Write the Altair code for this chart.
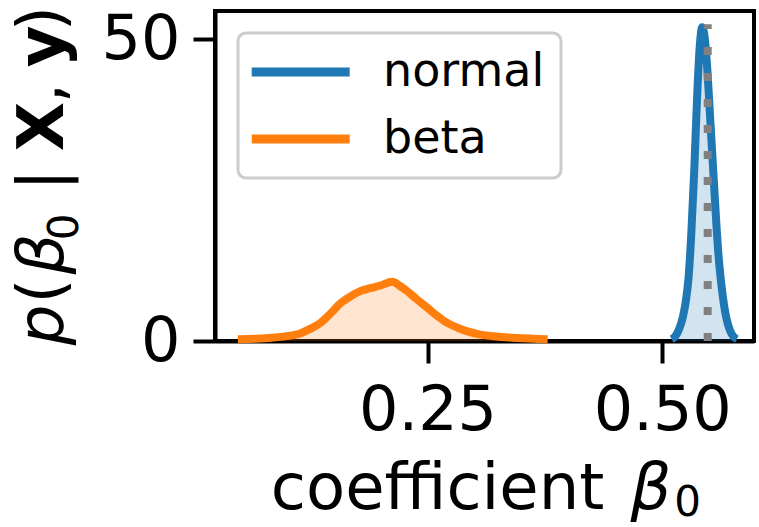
import altair as alt
import pandas as pd

# ---- data ----
norm_x = [0.510, 0.514, 0.518, 0.522, 0.525, 0.528, 0.531, 0.534, 0.537, 0.540,
          0.5425, 0.545, 0.548, 0.551, 0.554, 0.557, 0.560, 0.564, 0.568, 0.572,
          0.576, 0.5795]
norm_y = [0.3, 0.8, 2.0, 4.0, 6.5, 10.5, 18.0, 28.0, 40.0, 49.0,
          52.0, 50.5, 45.0, 37.0, 29.0, 21.0, 14.0, 8.0, 4.0, 1.8,
          0.7, 0.3]
beta_x = [0.048, 0.08, 0.10, 0.115, 0.125, 0.136, 0.147, 0.157, 0.168, 0.179,
          0.19, 0.20, 0.2125, 0.22, 0.228, 0.238, 0.25, 0.26, 0.271, 0.282,
          0.2925, 0.305, 0.32, 0.345, 0.378]
beta_y = [0.3, 0.5, 0.8, 1.3, 2.0, 3.0, 4.6, 6.2, 7.4, 8.3,
          8.8, 9.2, 9.8, 9.2, 8.3, 7.0, 5.5, 4.2, 3.0, 2.2,
          1.6, 1.1, 0.8, 0.5, 0.3]
true_beta0 = [0.5484]
true_top = [52.5]
series = ["normal", "beta"]
colors = ["#1f77b4", "#ff7f0e"]
x_ticks = [0.25, 0.50]
y_ticks = [0, 50]
x_title_parts = ["coefficient", "β", "0"]
y_title_parts = ["p", "(", "β", "0", "|", "X", ",", "y", ")"]

FONT = "DejaVu Sans"

df = pd.DataFrame({
    "x": norm_x + beta_x,
    "y": norm_y + beta_y,
    "dist": [series[0]] * len(norm_x) + [series[1]] * len(beta_x),
})

xscale = alt.Scale(domain=[0.0237, 0.5977], nice=False, zero=False)
yscale = alt.Scale(domain=[0, 54.69], nice=False, zero=False)

xaxis = alt.Axis(values=x_ticks, format=".2f", title=None, grid=False,
                 domainColor="black", domainWidth=4, tickColor="black",
                 tickWidth=4, tickSize=22, labelFontSize=62, labelFont=FONT,
                 labelColor="black", labelPadding=17, labelFlush=False)
yaxis = alt.Axis(values=y_ticks, format="d", title=None, grid=False,
                 domainColor="black", domainWidth=4, tickColor="black",
                 tickWidth=4, tickSize=22, labelFontSize=62, labelFont=FONT,
                 labelColor="black", labelPadding=13)

X = alt.X("x:Q", scale=xscale, axis=xaxis)
Y = alt.Y("y:Q", scale=yscale, axis=yaxis)

base = alt.Chart(df)

areas = [
    base.transform_filter(alt.datum.dist == s).mark_area(
        opacity=0.2, interpolate="monotone", color=c
    ).encode(x=X, y=Y)
    for s, c in zip(series, colors)
]

line = base.mark_line(strokeWidth=8, interpolate="monotone").encode(
    x=X, y=Y,
    color=alt.Color(
        "dist:N",
        scale=alt.Scale(domain=series, range=colors),
        sort=series,
        legend=alt.Legend(
            title=None, orient="none", legendX=23, legendY=22,
            symbolType="M-1.55,0L4.45,0", symbolSize=1067, symbolStrokeWidth=9,
            labelFontSize=46, labelFont=FONT, labelColor="black",
            labelOffset=83, rowPadding=21, padding=16,
            strokeColor="#cccccc", cornerRadius=8, fillColor="white",
            labelLimit=400,
        ),
    ),
)

rule_df = pd.DataFrame({"x": true_beta0, "y0": [0], "y1": true_top})
rule = alt.Chart(rule_df).mark_rule(
    color="#808080", strokeWidth=8, strokeDash=[8, 18]
).encode(x=X, y=alt.Y("y0:Q", scale=yscale, axis=yaxis), y2="y1:Q")


def txt(s, x, y, size=64, style="normal", weight="normal", angle=0, align="left"):
    return alt.Chart(pd.DataFrame({"t": [s]})).mark_text(
        font=FONT, fontSize=size, fontStyle=style, fontWeight=weight,
        angle=angle, align=align, baseline="alphabetic", color="black",
    ).encode(text="t:N", x=alt.value(x), y=alt.value(y))


# x-axis title: coefficient β_0
xt = [
    txt(x_title_parts[0], 55.8, 498),
    txt(x_title_parts[1], 436, 498, style="italic", align="center"),
    txt(x_title_parts[2], 472.5, 505, size=42, align="center"),
]

# y-axis title: p(β_0 | X, y)   (rotated, reading upward)
YB = -152
yt = [
    txt(y_title_parts[0], YB, 314, style="italic", angle=270, align="center"),
    txt(y_title_parts[1], YB, 280, angle=270, align="center"),
    txt(y_title_parts[2], YB, 243, style="italic", angle=270, align="center"),
    txt(y_title_parts[3], YB + 15, 216, size=42, angle=270, align="center"),
    txt(y_title_parts[4], YB, 169, angle=270, align="center"),
    txt(y_title_parts[5], YB, 115.5, weight="bold", angle=270, align="center"),
    txt(y_title_parts[6], YB, 82, angle=270, align="center"),
    txt(y_title_parts[7], YB, 35.5, weight="bold", angle=270, align="center"),
    txt(y_title_parts[8], YB, 7.5, angle=270, align="center"),
]

chart = alt.layer(*areas, line, rule, *xt, *yt).properties(
    width=539, height=330,
    padding={"left": 215, "top": 11, "right": 5, "bottom": 186},
    autosize=alt.AutoSizeParams(type="none"),
    background="white",
).configure_view(
    stroke="black", strokeWidth=4
).configure_legend(strokeWidth=3)

chart.save("out.html", embed_options={"renderer": "svg", "actions": False})
